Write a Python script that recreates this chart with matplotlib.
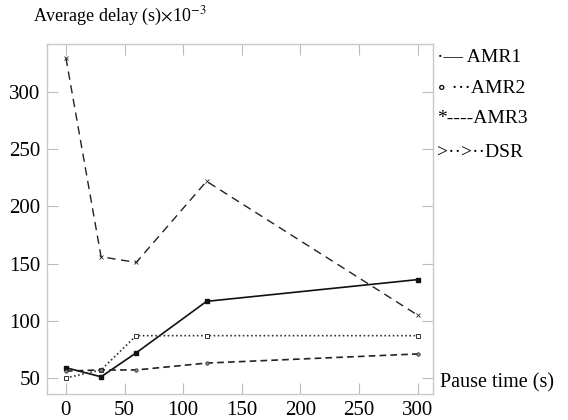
# average delay vs pause time for AMR1/2/3 and DSR
import matplotlib.pyplot as plt

pause_time = [0, 30, 60, 120, 300]
amr1 = [59, 51, 72, 117, 136]
amr2 = [50, 57, 87, 87, 87]
amr3 = [56, 57, 57, 63, 71]
dsr = [330, 156, 151, 222, 105]

x_ticks = [0, 50, 100, 150, 200, 250, 300]
y_ticks = [50, 100, 150, 200, 250, 300]

plt.rcParams['font.family'] = ['Liberation Serif', 'DejaVu Serif']

fig = plt.figure(figsize=(5.68, 4.2), dpi=100)
ax = fig.add_axes([0.083, 0.062, 0.679, 0.833])

ax.plot(pause_time, amr1, color='#111111', lw=1.2, ls='-', marker='s', ms=3, mfc='#111111')
ax.plot(pause_time, amr2, color='#333333', lw=1.2, ls=(0, (1, 1.5)), marker='s', ms=3.5, mfc='white', mew=0.7)
ax.plot(pause_time, amr3, color='#222222', lw=1.2, ls=(0, (4, 2.5)), marker='o', ms=2.5, mfc='#888888', mew=0.5)
ax.plot(pause_time, dsr, color='#222222', lw=1.0, ls=(0, (6, 4)), marker='x', ms=3, mew=0.6)

ax.set_xlim(-16, 313)
ax.set_ylim(36, 342)
ax.set_xticks(x_ticks)
ax.set_yticks(y_ticks)
ax.tick_params(direction='in', length=8, color='#bbbbbb', labelsize=15,
               top=True, right=True, pad=5)
for s in ax.spines.values():
    s.set_color('#c8c8c8')
    s.set_linewidth(1.0)

fig.text(0.058, 0.962, r'Average delay (s)$\times$10$^{-3}$', fontsize=13, va='center',
         math_fontfamily='stix')
fig.text(0.775, 0.088, 'Pause time (s)', fontsize=14.5, va='center')

legend_items = ['\u00b7\u2014 AMR1', '\u2218 \u00b7\u00b7\u00b7AMR2', '*----AMR3', '>\u00b7\u00b7>\u00b7\u00b7DSR']
legend_y = [0.864, 0.79, 0.719, 0.637]
for txt, yy in zip(legend_items, legend_y):
    fig.text(0.769, yy, txt, fontsize=14, va='center')

fig.savefig('out.png', dpi=100)
